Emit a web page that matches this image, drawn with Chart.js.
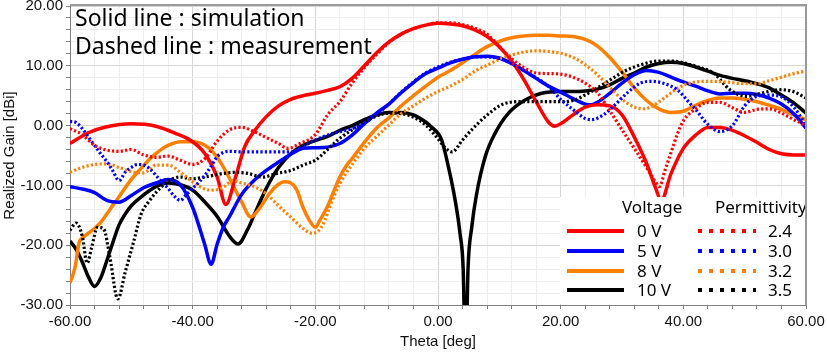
<!DOCTYPE html>
<html>
<head>
  <title>Realized Gain vs Theta</title>
  <script src="https://cdn.jsdelivr.net/npm/chart.js"></script>
  <style>
    body { margin: 0; background: #fff; }
  </style>
</head>
<body>
  <canvas id="gainChart" width="827" height="354"></canvas>

  <script>
    // simulation (solid) : 0 V, 5 V, 8 V, 10 V
    const sim0Theta = [-60,-57,-54,-50,-46,-43,-40,-38,-36,-34.6,-33,-31.5,-30,-28,-26,-24,-22,-20,-18,-16,-14,-12,-10,-8,-6,-4,-2,0,2,4,6,8,10,12,14,16,18,19,20,22,24,26,28,30,32,34,35.5,36.4,38,40,42,44,46,48,50,52,54,56,58,60];
    const sim0Gain  = [-3.0,-1.2,-0.2,0.3,-0.1,-1.2,-2.7,-4.7,-8.6,-13.2,-8.6,-3.5,-1.0,1.5,3.3,4.4,5.0,5.4,5.9,6.5,7.9,10.0,12.2,14.0,15.3,16.2,16.8,17.1,17.0,16.7,16.0,14.9,13.2,10.8,7.7,4.0,0.6,-0.1,0.3,1.8,3.1,3.5,3.3,1.8,-1.9,-6.3,-10.5,-12.5,-8.0,-3.8,-1.6,-0.3,-0.3,-0.8,-1.7,-2.8,-4.0,-4.7,-4.9,-4.9];

    const sim5Theta = [-60,-58,-56,-54,-52,-50,-48,-46,-44,-42,-40,-38,-37,-36,-35,-34,-32,-30,-28,-26,-24,-22,-20,-18,-16,-14,-12,-10,-8,-6,-4,-2,0,2,4,6,8,10,12,14,16,18,20,22,24,25,26,28,30,32,34,36,38,40,42,44,46,48,50,52,54,56,58,60];
    const sim5Gain  = [-10.2,-10.6,-11.2,-12.5,-12.8,-11.7,-10.4,-9.6,-9.0,-9.9,-13.7,-20.0,-23.2,-19.8,-17.0,-15.2,-11.5,-9.2,-7.5,-6.1,-4.8,-3.8,-3.7,-3.6,-3.0,-1.6,0.3,2.1,3.6,5.5,7.2,8.7,9.6,10.5,11.1,11.5,11.6,11.3,10.4,9.2,7.9,6.6,5.6,4.5,3.6,3.5,3.9,5.4,7.1,8.5,9.2,8.9,8.1,7.3,6.6,5.8,5.3,5.4,5.4,5.2,4.6,3.6,2.0,-0.4];

    const sim8Theta = [-60,-59.2,-58.5,-58,-57,-56,-55,-54,-53,-52,-51,-50,-49,-48,-47,-46,-45,-44,-42,-40,-38,-36,-34,-32,-30.5,-29,-27.5,-26,-25,-24,-23,-22,-21,-20,-19.3,-18,-17,-16,-15,-14,-12,-10,-8,-6,-4,-2,0,2,4,6,8,10,12,14,16,18,20,22,24,26,28,30,32,34,36,38,40,42,44,46,48,50,52,54,56,58,60];
    const sim8Gain  = [-26.3,-23.8,-19.5,-18.8,-18.0,-17.2,-16.2,-14.8,-13.3,-11.9,-10.4,-9.0,-7.8,-6.7,-5.6,-4.7,-3.9,-3.3,-2.7,-2.7,-3.3,-5.3,-8.8,-12.8,-15.3,-13.7,-11.4,-9.8,-9.4,-9.6,-10.8,-13.7,-15.8,-17.0,-15.9,-13.5,-11.0,-8.6,-6.8,-5.5,-2.8,-0.4,1.3,3.3,5.0,6.6,8.1,9.2,10.5,11.9,13.2,14.1,14.7,15.0,15.1,15.1,15.0,14.9,14.4,13.3,11.4,9.0,6.3,4.2,2.8,2.2,2.4,3.4,4.2,4.6,4.6,4.4,4.0,3.4,2.7,1.8,1.0];

    const sim10Theta = [-60,-59,-58,-57,-56,-55,-54,-53,-52,-51,-50,-48,-46,-44,-42,-40,-38,-36,-34,-32.6,-31,-30,-28,-26,-24,-22,-20,-18,-16,-14,-12,-10,-8,-6,-4,-2,-1,0,0.6,1.7,2.8,3.6,4.1,4.5,4.9,5.5,6.3,7.7,9.3,11.5,14.2,16.9,20,22,24,26,28,30,32,34,36,38,40,42,44,46,48,50,52,54,56,58,60];
    const sim10Gain  = [-19.3,-20.7,-22.8,-25.3,-26.9,-25.5,-22.6,-19.5,-16.6,-14.8,-13.4,-11.6,-10.2,-9.6,-9.9,-10.8,-12.8,-15.2,-18.5,-19.8,-17.3,-15.0,-10.5,-7.0,-4.7,-3.3,-2.5,-1.8,-0.8,0.0,1.0,1.8,2.2,2.2,1.8,0.6,-0.3,-1.3,-2.4,-6.9,-12.5,-18.1,-23.8,-40,-23.8,-17.0,-11.4,-5.2,-1.3,2.1,4.3,5.4,5.7,5.7,5.8,6.1,6.8,7.9,8.8,9.8,10.4,10.6,10.4,9.8,9.1,8.4,7.9,7.5,7.0,6.3,5.1,3.8,2.1];

    // measurement (dotted) : permittivity 2.4, 3.0, 3.2, 3.5
    const meas24Theta = [-60,-58,-56,-54,-52,-50,-48,-46,-44,-42,-40,-38,-36,-34,-32,-30,-28,-26,-24.5,-22.5,-20,-18,-16,-14,-12,-10,-8,-6,-4,-2,0,2,4,6,8,10,12,14,16,18,20,22,24,26,28,30,32,34,35.5,36.1,37,38,39,40,42,44,46,48,50,52,54,56,58,60];
    const meas24Gain  = [-0.5,-1.5,-3.3,-4.1,-4.3,-4.0,-4.9,-5.3,-5.1,-5.8,-6.5,-5.5,-2.6,-0.7,-0.3,-1.0,-2.0,-3.0,-3.8,-3.0,-1.5,1.8,4.0,7.1,9.7,11.9,13.9,15.3,16.2,16.8,17.2,17.2,16.9,16.3,15.3,13.2,11.2,9.7,8.8,8.7,8.6,8.1,7.1,5.5,2.5,-0.7,-3.8,-7.0,-9.5,-10.2,-7.5,-4.5,-1.5,0.8,2.8,3.9,3.9,3.0,2.2,2.7,2.8,2.1,1.0,0.0];

    const meas30Theta = [-60,-59,-58,-57,-56,-55,-54,-53,-52,-51,-50,-49,-48,-47,-46,-45,-44,-43,-42,-41,-40,-39,-38,-37,-36,-35,-34,-32,-30,-28,-26,-24,-22,-20,-18,-16,-14,-12,-10,-8,-6,-4,-2,0,2,4,6,8,10,12,14,16,18,20,22,24,25,27,29,31,33,35,37,39,40,41,42,44,46,48,50,52,54,56,58,60];
    const meas30Gain  = [0.7,0.5,-0.5,-1.9,-3.3,-4.7,-6.0,-7.6,-9.2,-7.8,-7.0,-6.5,-6.6,-7.2,-8.3,-9.5,-10.5,-11.8,-12.5,-11.5,-10.5,-9.5,-8.3,-6.8,-5.2,-4.5,-4.3,-4.4,-4.4,-4.4,-4.4,-4.4,-3.5,-2.4,-1.6,-1.0,-0.5,0.4,1.9,3.6,5.6,7.3,8.8,9.8,10.6,11.1,11.5,11.5,11.2,10.4,9.3,8.0,6.6,4.4,2.7,1.2,1.0,1.8,3.6,5.6,7.1,7.4,7.0,6.0,5.0,3.8,2.7,0.2,-1.0,0.0,3.3,4.9,5.1,4.8,3.1,0.1];

    const meas32Theta = [-60,-58,-56,-54,-52,-50,-48,-47,-46,-44,-42,-40,-38,-36.6,-35,-33.4,-32,-30,-28,-26,-24,-22,-20.5,-19.5,-18.5,-17.7,-16,-14,-12,-10,-8,-6,-4,-2,0,2,4,6,8,10,12,14,16,18,20,22,24,26,28,30,32,33.5,35,37,39,41,44,47,50,52,54,56,58,60];
    const meas32Gain  = [-7.8,-7.0,-6.5,-6.4,-7.0,-7.7,-7.9,-7.3,-6.6,-6.6,-7.8,-9.4,-10.6,-10.8,-10.3,-9.2,-9.6,-10.2,-11.4,-13.4,-15.3,-17.2,-18.0,-17.6,-16.0,-13.7,-9.7,-6.5,-3.8,-1.8,0.1,2.0,3.3,4.6,5.7,6.6,7.7,9.1,10.1,11.1,11.8,12.3,12.5,12.4,12.1,11.4,10.2,8.5,6.4,4.4,3.1,2.8,3.3,4.7,6.2,7.1,7.4,7.3,7.0,7.0,7.5,8.1,8.7,9.1];

    const meas35Theta = [-60,-59,-58,-57.2,-56.5,-55.5,-54.5,-53.5,-52.2,-51,-49.7,-48.4,-47,-46,-44,-42,-40,-38,-35,-33,-31,-28.5,-26.3,-24,-22,-20,-18,-16,-14,-12,-10,-8,-6,-4,-2,0,1,2.3,4,5.5,7.7,10.4,13,16,20,22,25,27.7,30.4,33.2,35.9,38,40,42.7,44.9,47.6,50.3,53,55.8,57.9,60];
    const meas35Gain  = [-17.5,-16.3,-18.5,-23.0,-20.5,-17.0,-17.3,-22.0,-29.0,-24.5,-19.7,-14.8,-12.5,-11.2,-9.3,-8.6,-8.9,-8.6,-8.0,-7.8,-8.0,-8.6,-8.0,-7.5,-6.6,-5.8,-4.0,-2.1,-0.7,0.6,1.6,2.1,2.0,1.4,0.1,-2.2,-3.5,-4.4,-2.4,-0.7,1.5,3.5,4.0,4.0,4.0,4.2,5.7,7.4,9.1,10.2,10.8,10.8,10.5,9.7,8.8,6.0,4.9,5.5,6.0,5.7,4.6];

    const voltageLabels = ['0 V', '5 V', '8 V', '10 V'];
    const permLabels = ['2.4', '3.0', '3.2', '3.5'];
    const colors = ['#ff0000', '#0000ff', '#ff8000', '#000000'];

    const simSeries = [[sim0Theta, sim0Gain], [sim5Theta, sim5Gain], [sim8Theta, sim8Gain], [sim10Theta, sim10Gain]];
    const measSeries = [[meas24Theta, meas24Gain], [meas30Theta, meas30Gain], [meas32Theta, meas32Gain], [meas35Theta, meas35Gain]];

    const pts = (t, g) => t.map((x, i) => ({ x: x, y: g[i] }));

    const datasets = [];
    measSeries.forEach((s, i) => datasets.push({
      label: permLabels[i],
      data: pts(s[0], s[1]),
      borderColor: colors[i],
      borderWidth: 3.2,
      borderDash: [2.2, 2.2],
      pointRadius: 0,
      cubicInterpolationMode: 'monotone'
    }));
    simSeries.forEach((s, i) => datasets.push({
      label: voltageLabels[i],
      data: pts(s[0], s[1]),
      borderColor: colors[i],
      borderWidth: 3.5,
      pointRadius: 0,
      cubicInterpolationMode: 'monotone'
    }));

    const gridColor = (every) => (c) => (c.tick && c.tick.value % every === 0) ? '#d6d6d6' : '#eeeeee';

    // text box, custom legend and frame
    const overlay = {
      id: 'overlay',
      afterDatasetsDraw(chart) {
        const ctx = chart.ctx;
        ctx.save();
        ctx.fillStyle = '#ffffff';
        ctx.fillRect(560, 197, 245, 107);

        ctx.fillStyle = '#000';
        ctx.font = '23px "Noto Sans"';
        ctx.textBaseline = 'alphabetic';
        ctx.fillText('Solid line : simulation', 75, 26);
        ctx.fillText('Dashed line : measurement', 75, 54);

        ctx.font = '17px "Noto Sans"';
        ctx.fillText('Voltage', 622, 213);
        ctx.fillText('Permittivity', 715, 213);

        const rows = [231, 251, 271, 290];
        ctx.textBaseline = 'middle';
        rows.forEach((y, i) => {
          ctx.strokeStyle = colors[i];
          ctx.lineWidth = 4;
          ctx.setLineDash([]);
          ctx.beginPath(); ctx.moveTo(567, y); ctx.lineTo(624, y); ctx.stroke();
          ctx.setLineDash([4, 7]);
          ctx.beginPath(); ctx.moveTo(698, y); ctx.lineTo(756, y); ctx.stroke();
          ctx.fillStyle = '#000';
          ctx.fillText(voltageLabels[i], 637, y + 1);
          ctx.fillText(permLabels[i], 768, y + 1);
        });
        ctx.restore();
      },
      afterDraw(chart) {
        const a = chart.chartArea;
        const ctx = chart.ctx;
        ctx.save();
        ctx.strokeStyle = '#9a9a9a';
        ctx.lineWidth = 2;
        ctx.beginPath();
        ctx.moveTo(a.left, a.top - 1); ctx.lineTo(a.right, a.top - 1); ctx.lineTo(a.right, a.bottom);
        ctx.stroke();
        ctx.restore();
      }
    };

    Chart.defaults.font.family = '"Liberation Sans", Arial, sans-serif';
    Chart.defaults.color = '#111';

    new Chart(document.getElementById('gainChart'), {
      type: 'line',
      data: { datasets: datasets },
      plugins: [overlay],
      options: {
        responsive: false,
        animation: false,
        devicePixelRatio: 1,
        layout: { padding: { top: 6, right: 21, left: 0, bottom: 0 } },
        plugins: { legend: { display: false }, tooltip: { enabled: false } },
        scales: {
          x: {
            type: 'linear', min: -60, max: 60,
            afterFit: (s) => { s.height = 49; s.paddingLeft = 0; s.paddingRight = 0; },
            ticks: {
              stepSize: 4, autoSkip: false, maxRotation: 0, padding: 4,
              font: { size: 15 },
              callback: (v) => v % 20 === 0 ? v.toFixed(2) : ''
            },
            grid: { color: gridColor(20), tickColor: '#808080', tickLength: 4 },
            border: { color: '#808080' },
            title: { display: true, text: 'Theta [deg]', font: { size: 15 }, padding: { top: 0, bottom: 3 } }
          },
          y: {
            min: -30, max: 20,
            afterFit: (s) => { s.width = 70; s.paddingTop = 0; s.paddingBottom = 0; },
            ticks: {
              stepSize: 2, autoSkip: false, padding: 3,
              font: { size: 15 },
              callback: (v) => v % 10 === 0 ? v.toFixed(2) : ''
            },
            grid: { color: gridColor(10), tickColor: '#808080', tickLength: 4 },
            border: { color: '#808080' },
            title: { display: true, text: 'Realized Gain [dBi]', font: { size: 15 }, padding: { top: 1, bottom: 0 } }
          }
        }
      }
    });
  </script>
</body>
</html>
